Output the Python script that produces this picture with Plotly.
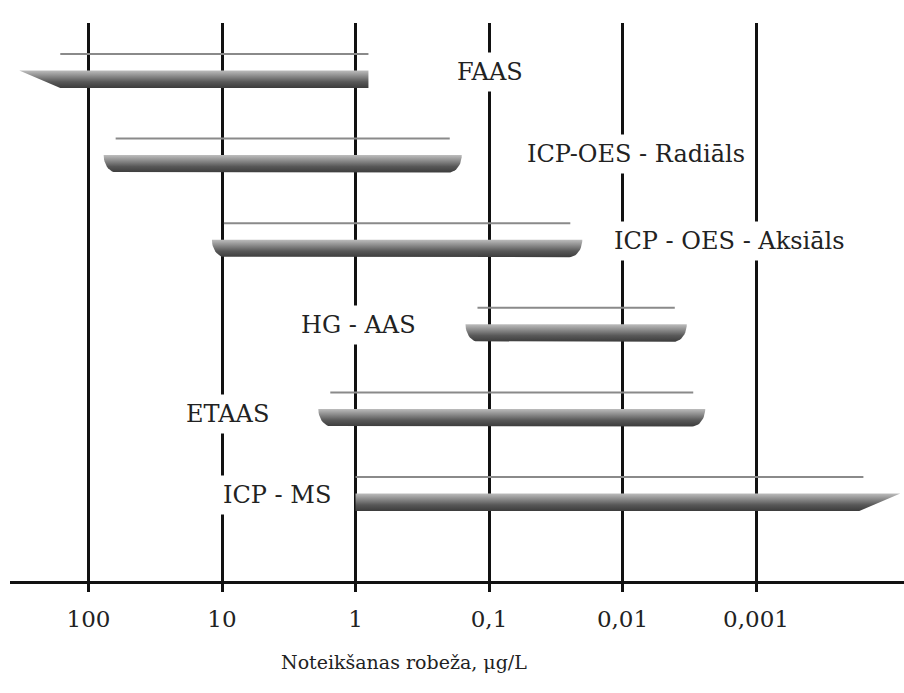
import numpy as np
import plotly.graph_objects as go

# ---------------- data ----------------
methods = ["FAAS", "ICP-OES - Radiāls", "ICP - OES - Aksiāls", "HG - AAS", "ETAAS", "ICP - MS"]
upper_conc = [330, 77, 11.9, 0.15, 1.9, 1.0]              # left end (higher concentration), µg/L
lower_conc = [0.8, 0.16, 0.02, 0.0033, 0.0024, 0.000083]  # right end (lower concentration), µg/L
tick_vals = [100, 10, 1, 0.1, 0.01, 0.001]
tick_text = ["100", "10", "1", "0,1", "0,01", "0,001"]
axis_title = "Noteikšanas robeža, μg/L"

# ---------------- style / layout ----------------
left_style = ["arrow", "round", "round", "round", "round", "flat"]
right_style = ["flat", "round", "round", "round", "round", "arrow"]
label_pos = [(-1.01, 0.19), (-2.10, 0.22), (-2.80, 0.19), (-0.02, 0.20), (0.96, 0.15), (0.59, 0.19)]

PX_DEC = 133.5   # pixels per decade
PX_ROW = 84.6    # pixels per row
FONT = "DejaVu Serif"

band_h = 17.5 / PX_ROW
line_off = 34 / PX_ROW
round_dx = 13 / PX_DEC
arrow_dx = 41 / PX_DEC
line_inset = 12 / PX_DEC
# note: axis is reversed -> moving right on screen = decreasing log value

fig = go.Figure()

n = len(methods)
for i, name in enumerate(methods):
    k = n - 1 - i
    y0, y1 = k, k + band_h
    L = np.log10(upper_conc[i])
    R = np.log10(lower_conc[i])
    xs, ys = [L, R], [y1, y1]
    if right_style[i] == "round":
        t = np.linspace(0, np.pi / 2, 14)
        cx = R + round_dx
        xs += list(cx - round_dx * np.cos(t))
        ys += list(y1 - band_h * np.sin(t))
    elif right_style[i] == "arrow":
        xs += [R + arrow_dx]
        ys += [y0]
    else:
        xs += [R]
        ys += [y0]
    if left_style[i] == "round":
        t = np.linspace(np.pi / 2, 0, 14)
        cx = L - round_dx
        xs += list(cx + round_dx * np.cos(t))
        ys += list(y1 - band_h * np.sin(t))
    elif left_style[i] == "arrow":
        xs += [L - arrow_dx]
        ys += [y0]
    else:
        xs += [L]
        ys += [y0]
    xs += [xs[0]]
    ys += [ys[0]]
    fig.add_trace(go.Scatter(
        x=[10 ** v for v in xs], y=ys, mode="lines", fill="toself",
        line=dict(width=0, color="rgba(0,0,0,0)"),
        fillgradient=dict(type="vertical",
                          colorscale=[[0, "#3c3c3c"], [0.35, "#585858"], [1, "#bdbdbd"]]),
        hoverinfo="skip", showlegend=False))
    lx0 = {"round": L - line_inset, "arrow": L - arrow_dx, "flat": L}[left_style[i]]
    lx1 = {"round": R + line_inset, "arrow": R + arrow_dx * 0.9, "flat": R}[right_style[i]]
    fig.add_trace(go.Scatter(
        x=[10 ** lx0, 10 ** lx1], y=[k + line_off, k + line_off], mode="lines",
        line=dict(width=2, color="#8a8a8a"), hoverinfo="skip", showlegend=False))

for i, name in enumerate(methods):
    k = n - 1 - i
    lx, dy = label_pos[i]
    fig.add_annotation(x=lx, y=k + dy, xref="x", yref="y", text=name, showarrow=False,
                       font=dict(family=FONT, size=24, color="#222222"),
                       bgcolor="white", borderpad=5)

fig.add_annotation(x=(404 - 10) / 894, y=(581 - 662) / 558, xref="paper", yref="paper",
                   yanchor="middle", xanchor="center",
                   text=axis_title, showarrow=False,
                   font=dict(family=FONT, size=19, color="#222222"))

left_log = 2 + (88.5 - 10) / PX_DEC
right_log = 2 - (904 - 88.5) / PX_DEC
fig.update_xaxes(type="log", range=[left_log, right_log],
                 tickvals=tick_vals, ticktext=tick_text,
                 showgrid=True, gridcolor="#111111", gridwidth=2.5,
                 showline=True, linecolor="#111111", linewidth=3,
                 ticks="outside", ticklen=8, tickwidth=2.5, tickcolor="#111111",
                 tickfont=dict(family=FONT, size=23, color="#222222"),
                 ticklabelstandoff=7, zeroline=False)
fig.update_yaxes(range=[-70 / PX_ROW, (511 - 23) / PX_ROW], visible=False,
                 showgrid=False, zeroline=False)
fig.update_layout(width=904, height=693, margin=dict(l=10, r=0, t=23, b=112),
                  plot_bgcolor="white", paper_bgcolor="white", showlegend=False)

fig.write_html("out.html")
